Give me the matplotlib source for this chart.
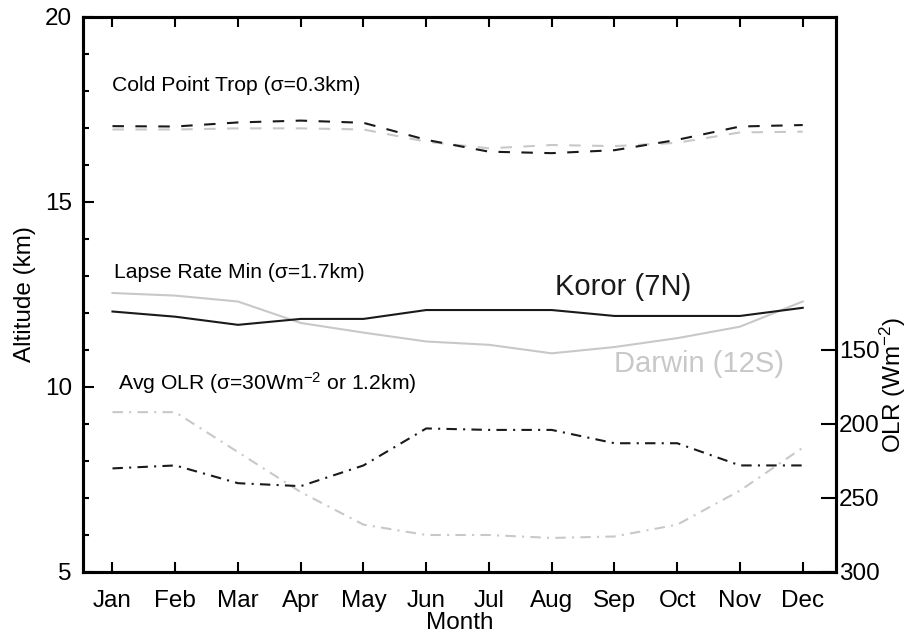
import numpy as np
import matplotlib.pyplot as plt
from matplotlib.ticker import MultipleLocator

plt.rcParams['font.family'] = ['Liberation Sans', 'DejaVu Sans']
plt.rcParams['mathtext.fontset'] = 'custom'
plt.rcParams['mathtext.rm'] = 'Liberation Sans'
plt.rcParams['mathtext.it'] = 'Liberation Sans:italic'

months = ['Jan', 'Feb', 'Mar', 'Apr', 'May', 'Jun',
          'Jul', 'Aug', 'Sep', 'Oct', 'Nov', 'Dec']
mon = np.arange(1, 13)

# cold point tropopause height (km)
cpt_koror = [17.05, 17.04, 17.15, 17.20, 17.14, 16.68, 16.36, 16.32, 16.40, 16.68, 17.04, 17.08]
cpt_darwin = [16.96, 16.96, 16.99, 16.99, 16.96, 16.63, 16.45, 16.54, 16.51, 16.60, 16.88, 16.90]

# lapse rate minimum height (km)
lrm_koror = [12.04, 11.90, 11.68, 11.84, 11.84, 12.08, 12.08, 12.08, 11.92, 11.92, 11.92, 12.14]
lrm_darwin = [12.54, 12.47, 12.31, 11.73, 11.47, 11.23, 11.14, 10.91, 11.08, 11.32, 11.63, 12.31]

# monthly mean OLR (W m-2)
olr_koror = [230, 228, 240, 242, 228, 203, 204, 204, 213, 213, 228, 228]
olr_darwin = [192, 192, 219, 246, 268, 275, 275, 277, 276, 268, 245, 216]

black = '#1a1a1a'
grey = '#c8c8c8'
dash = (0, (5.5, 5.5))
dashdot = (0, (5, 3, 1, 3))

fig = plt.figure(figsize=(9.07, 6.34), dpi=100)
ax = fig.add_axes([0.0915, 0.0978, 0.8302, 0.8754])
ax2 = ax.twinx()

ax.plot(mon, cpt_darwin, color=grey, lw=1.5, ls=dash)
ax.plot(mon, cpt_koror, color=black, lw=1.5, ls=dash)
ax.plot(mon, lrm_darwin, color=grey, lw=1.5)
ax.plot(mon, lrm_koror, color=black, lw=1.5)
ax2.plot(mon, olr_darwin, color=grey, lw=1.5, ls=dashdot)
ax2.plot(mon, olr_koror, color=black, lw=1.5, ls=dashdot)

ax.set_xlim(0.53, 12.53)
ax.set_ylim(5, 20)
# 30 W m-2 ~ 1.2 km, so 25 W m-2 per km, 300 at the bottom
ax2.set_ylim(300, 300 - 25 * 15)

ax.set_xticks(mon)
ax.set_xticklabels(months)
ax.yaxis.set_major_locator(MultipleLocator(5))
ax.yaxis.set_minor_locator(MultipleLocator(1))
ax2.set_yticks([150, 200, 250, 300])

ax.tick_params(axis='x', which='major', direction='in', length=7, width=1.5,
               top=True, labelsize=17.5, pad=13)
ax.tick_params(axis='y', which='major', direction='in', length=8, width=1.5,
               right=False, labelsize=17.5, pad=8)
ax.tick_params(axis='y', which='minor', direction='in', length=4, width=1.5,
               right=False)
ax2.tick_params(axis='y', direction='in', length=11, width=1.5,
                labelsize=17.5, pad=2)

for a in (ax, ax2):
    for s in a.spines.values():
        s.set_linewidth(2.2)

ax.set_ylabel('Altitude (km)', fontsize=17.5, labelpad=6)
ax.set_xlabel('Month', fontsize=17.5, labelpad=0)
fig.text(893 / 907, 1 - 385 / 634, 'OLR (Wm$^{-2}$)', fontsize=17.5,
         rotation=90, ha='center', va='center')

ax.text(1.0, 18.14, 'Cold Point Trop (σ=0.3km)', fontsize=15.2, va='center')
ax.text(1.03, 13.1, 'Lapse Rate Min (σ=1.7km)', fontsize=15.2, va='center')
ax.text(1.08, 10.1, 'Avg OLR (σ=30Wm$^{-2}$ or 1.2km)', fontsize=15.2, va='center')
ax.text(8.05, 12.7, 'Koror (7N)', fontsize=21, va='center', color=black)
ax.text(9.0, 10.62, 'Darwin (12S)', fontsize=21, va='center', color=grey)

fig.savefig('out.png', dpi=100)
